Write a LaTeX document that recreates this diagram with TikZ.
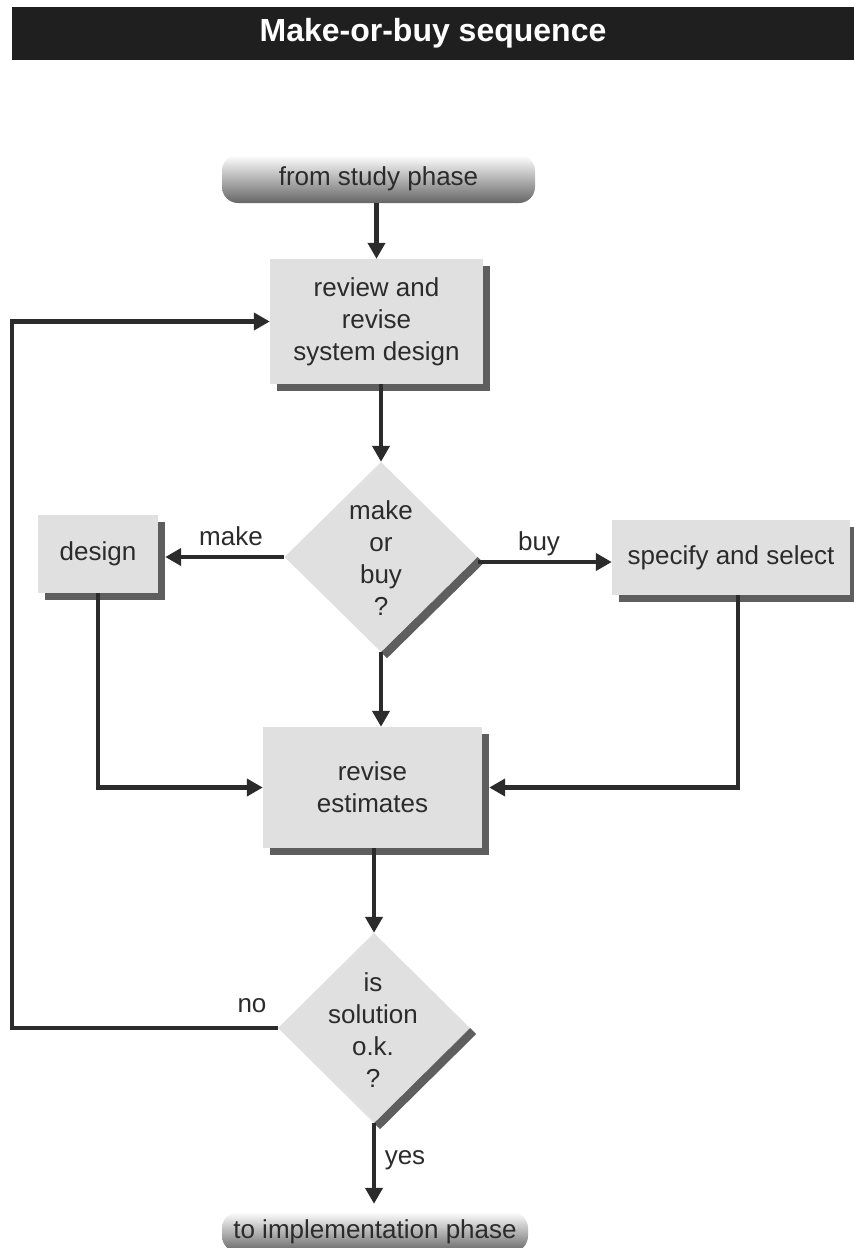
\documentclass[tikz,border=0pt]{standalone}
\usepackage{fontspec}
\setmainfont{Liberation Sans}
\usetikzlibrary{arrows.meta,shapes.geometric,shadows}
\definecolor{ink}{HTML}{2B2B2B}
\definecolor{boxfill}{HTML}{E0E0E0}
\definecolor{shade}{HTML}{5E5E5E}
\definecolor{bar}{HTML}{1F1F1F}
\definecolor{termdark}{HTML}{666666}
\definecolor{termmid}{HTML}{B5B5B5}
\begin{document}
\begin{tikzpicture}[x=1pt,y=-1pt,
  lbl/.style={font=\fontsize{26}{32}\selectfont, text=ink, align=center, inner sep=0pt},
  proc/.style={lbl, fill=boxfill,
    general shadow={fill=shade, shadow xshift=7pt, shadow yshift=-7pt}},
  decision/.style={diamond, fill=boxfill, inner sep=0pt},
  term/.style={lbl, rounded corners=16pt, top color=white, middle color=termmid,
    bottom color=termdark},
  flow/.style={draw=ink, line width=4.5pt, -{Triangle[length=16pt,width=17pt]}},
  band/.style={fill=shade}
]
\useasboundingbox (0,0) rectangle (854,1248);

% title bar
\node[fill=bar, minimum width=842, minimum height=53, inner sep=0pt,
      text=white, font=\bfseries\fontsize{32}{36}\selectfont]
      (title) at (433,33.5) {Make-or-buy sequence};

% terminators
\node[term, minimum width=313, minimum height=48] (start) at (378.5,179) {from study phase};
\node[term, minimum width=306, minimum height=40] (finish) at (375,1232) {to implementation phase};

% process boxes
\node[proc, minimum width=213, minimum height=125] (review) at (376.5,321.5)
  {review and\\revise\\system design};
\node[proc, minimum width=120, minimum height=78] (design) at (98,554) {design};
\node[proc, minimum width=238, minimum height=75] (spec) at (731,557.5) {specify and select};
\node[proc, minimum width=219, minimum height=121] (revise) at (372.5,787.5)
  {revise\\estimates};

% decisions
\node[decision, minimum width=193, minimum height=190] (d1) at (381,557) {};
\fill[band] (d1.east) -- (d1.south) -- ([shift={(6,6)}]d1.south) -- ([shift={(6,6)}]d1.east) -- cycle;
\node[lbl] (d1t) at (381,558) {make\\or\\buy\\?};

\node[decision, minimum width=192, minimum height=190] (d2) at (374,1028) {};
\fill[band] (d2.east) -- (d2.south) -- ([shift={(6,6)}]d2.south) -- ([shift={(6,6)}]d2.east) -- cycle;
\node[lbl] (d2t) at (373,1030) {is\\solution\\o.k.\\?};

% helper points on the shadow edges
\coordinate (designR) at ([xshift=7pt]design.east);
\coordinate (d1E) at ([yshift=-5pt]d1.east);
\coordinate (specS) at ([xshift=7pt]spec.south);
\coordinate (reviseR) at ([xshift=7pt]revise.east);
\coordinate (loopL) at (12,1028);
\coordinate (finishTop) at ([yshift=8pt]finish.north);

% connectors
\draw[flow] (start.south -| review.north) -- (review.north);
\draw[flow] (review.south -| d1.north) -- (d1.north);
\draw[flow] (d1.west) -- (d1.west -| designR);
\draw[flow] (d1E) -- (d1E -| spec.west);
\draw[flow] (d1.south) -- (d1.south |- revise.north);
\draw[flow] (design.south) |- (revise.west);
\draw[flow] (specS) |- (reviseR);
\draw[flow] (revise.south -| d2.north) -- (d2.north);
\draw[flow] (d2.west) -- (loopL) |- (review.west);
\draw[flow] (d2.south) -- (d2.south |- finishTop);

% branch labels
\node[lbl] (lmake) at (231,536) {make};
\node[lbl] (lbuy) at (539,544) {buy};
\node[lbl] (lno) at (252,1006) {no};
\node[lbl] (lyes) at (405,1160) {yes};
\end{tikzpicture}
\end{document}
